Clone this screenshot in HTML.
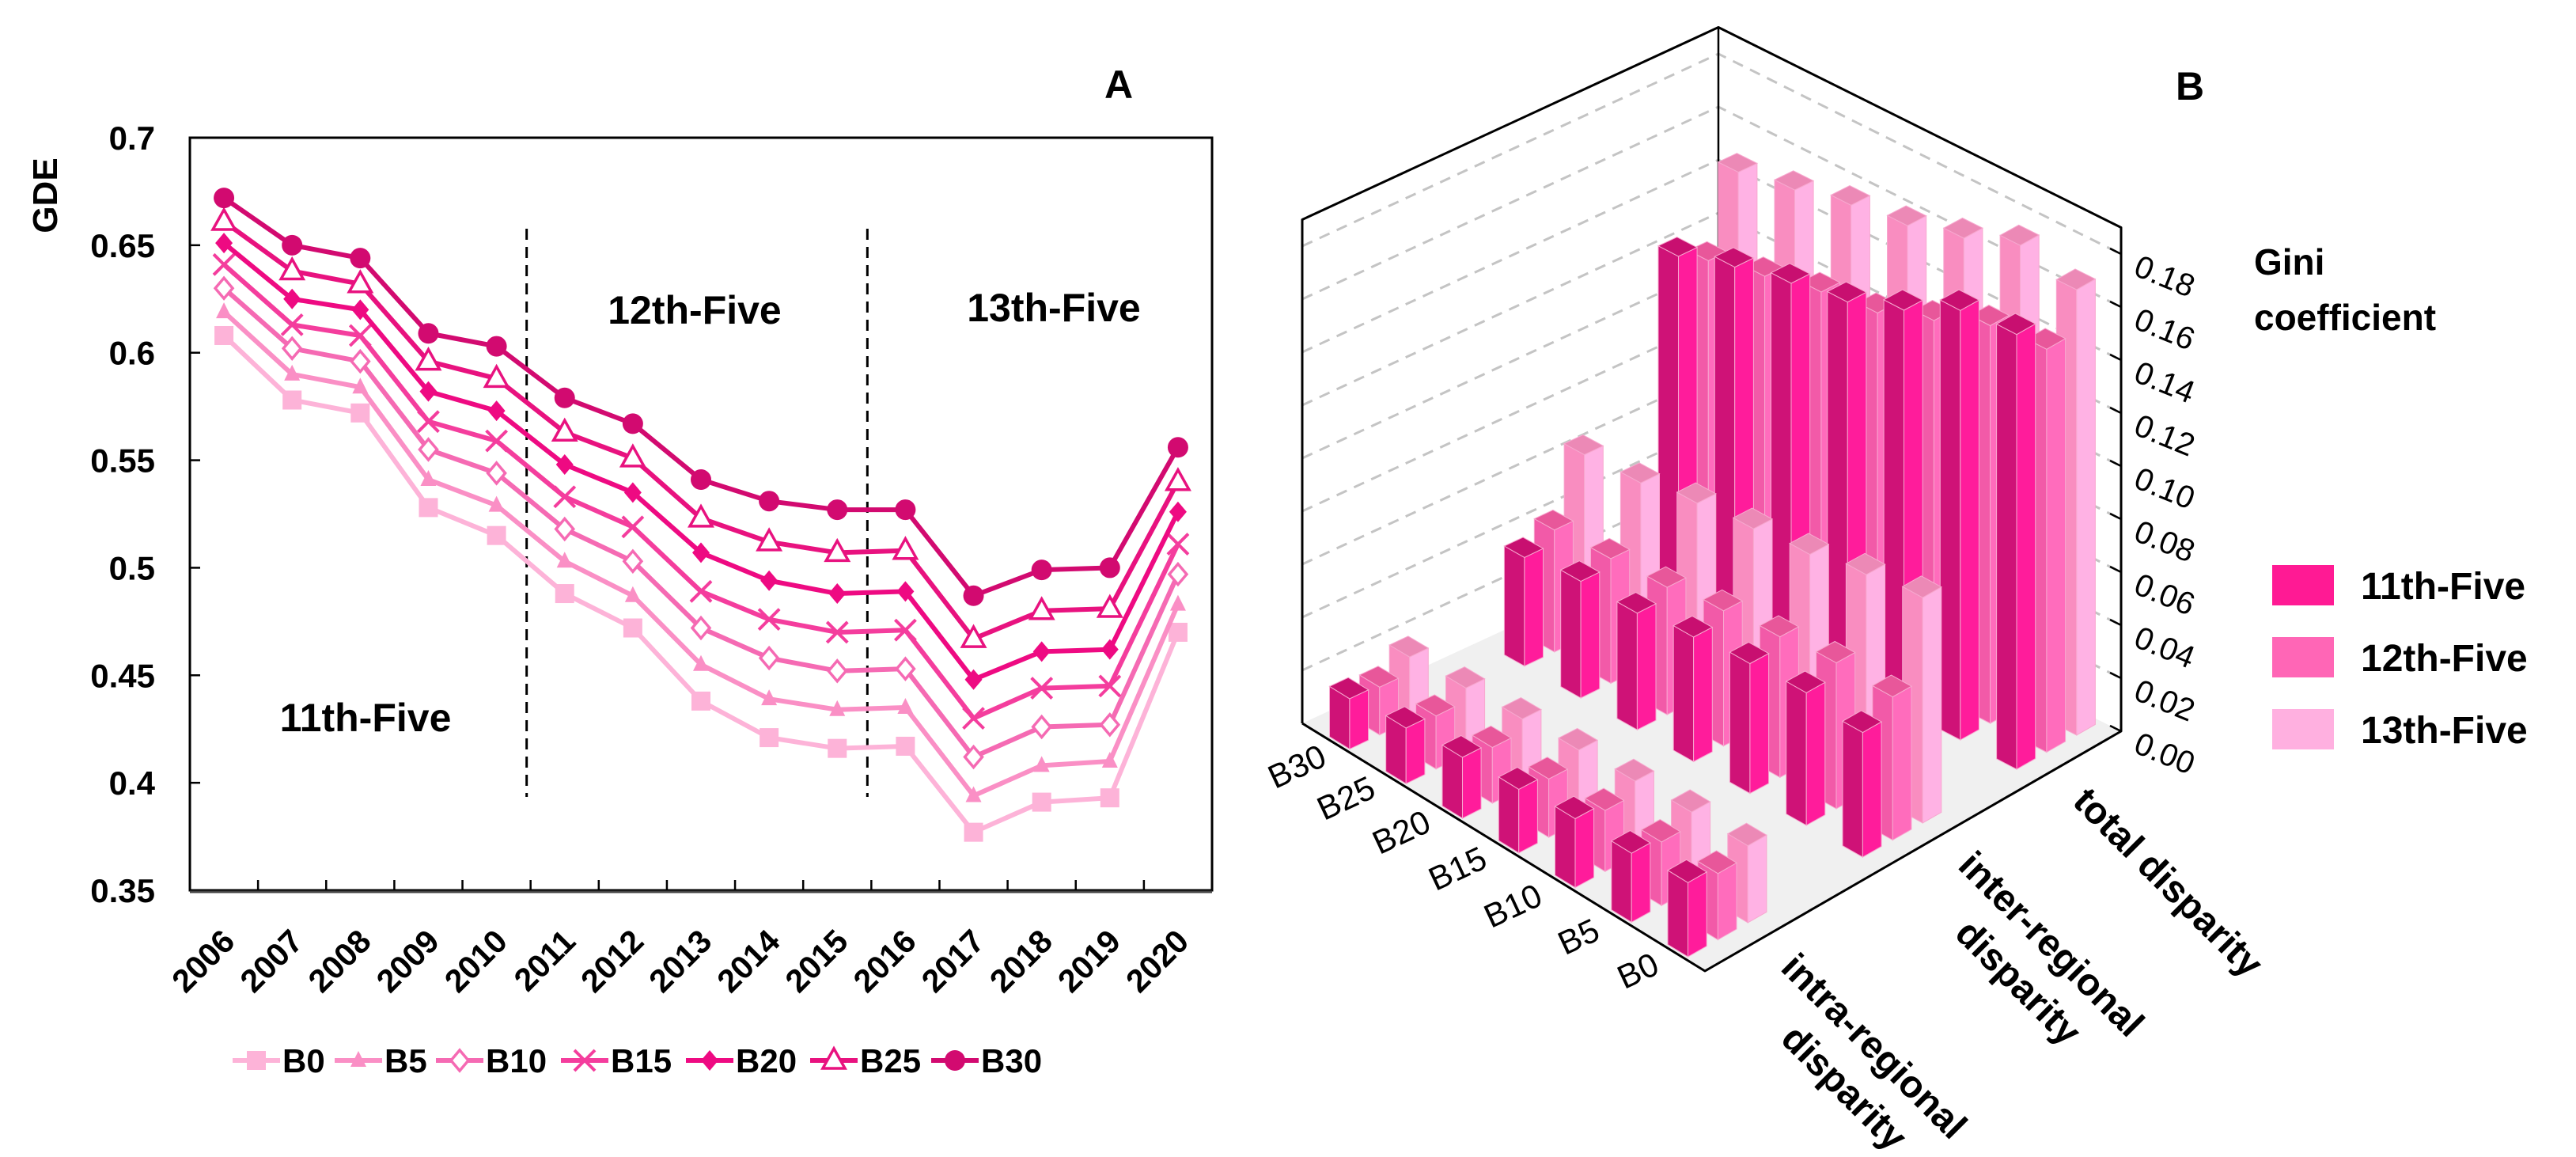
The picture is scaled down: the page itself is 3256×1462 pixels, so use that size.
<!DOCTYPE html>
<html><head><meta charset="utf-8"><style>
html,body{margin:0;padding:0;background:#fff}
svg{display:block;font-family:"Liberation Sans",Arial,sans-serif}
</style></head><body>
<svg id="fig" width="3256" height="1462" viewBox="0 0 3256 1462" xmlns="http://www.w3.org/2000/svg">
<g id="panelA"></g>
<g id="panelB"></g>
</svg>
<script>
// ---------- Panel A data ----------
const years = ["2006","2007","2008","2009","2010","2011","2012","2013","2014","2015","2016","2017","2018","2019","2020"];
const seriesNames = ["B0","B5","B10","B15","B20","B25","B30"];
const B0  = [0.608,0.578,0.572,0.528,0.515,0.488,0.472,0.438,0.421,0.416,0.417,0.377,0.391,0.393,0.470];
const B5  = [0.619,0.590,0.584,0.541,0.529,0.503,0.487,0.455,0.439,0.434,0.435,0.394,0.408,0.410,0.483];
const B10 = [0.630,0.602,0.596,0.555,0.544,0.518,0.503,0.472,0.458,0.452,0.453,0.412,0.426,0.427,0.497];
const B15 = [0.641,0.613,0.608,0.568,0.559,0.533,0.519,0.489,0.476,0.470,0.471,0.430,0.444,0.445,0.511];
const B20 = [0.651,0.625,0.620,0.582,0.573,0.548,0.535,0.507,0.494,0.488,0.489,0.448,0.461,0.462,0.526];
const B25 = [0.661,0.638,0.632,0.596,0.588,0.563,0.551,0.523,0.512,0.507,0.508,0.467,0.480,0.481,0.540];
const B30 = [0.672,0.650,0.644,0.609,0.603,0.579,0.567,0.541,0.531,0.527,0.527,0.487,0.499,0.500,0.556];
const yTicksA = [0.35,0.4,0.45,0.5,0.55,0.6,0.65,0.7];
const yTickLabelsA = ["0.35","0.4","0.45","0.5","0.55","0.6","0.65","0.7"];
const periodBoundaries = [5,10];

// ---------- Panel B data ----------
const bLevels = ["B30","B25","B20","B15","B10","B5","B0"];
const disparities = ["intra-regional disparity","inter-regional disparity","total disparity"];
const periods = ["11th-Five","12th-Five","13th-Five"];
const intra11 = [0.019,0.021,0.023,0.024,0.026,0.026,0.028];
const intra12 = [0.018,0.020,0.021,0.022,0.023,0.024,0.025];
const intra13 = [0.024,0.025,0.026,0.027,0.028,0.029,0.029];
const inter11 = [0.041,0.044,0.044,0.047,0.049,0.050,0.047];
const inter12 = [0.046,0.047,0.048,0.051,0.053,0.055,0.054];
const inter13 = [0.069,0.070,0.074,0.076,0.078,0.082,0.085];
const total11 = [0.127,0.134,0.139,0.143,0.151,0.162,0.164];
const total12 = [0.120,0.125,0.130,0.133,0.141,0.150,0.152];
const total13 = [0.148,0.152,0.157,0.160,0.166,0.174,0.168];
const zTicks = [0,0.02,0.04,0.06,0.08,0.10,0.12,0.14,0.16,0.18];
const zTickLabels = ["0.00","0.02","0.04","0.06","0.08","0.10","0.12","0.14","0.16","0.18"];

const NS="http://www.w3.org/2000/svg";
function mk(parent,tag,attrs,text){const e=document.createElementNS(NS,tag);for(const k in attrs)e.setAttribute(k,attrs[k]);if(text!==undefined)e.textContent=text;parent.appendChild(e);return e;}

// ===== Panel A =====
const A=document.getElementById('panelA');
const X0=240,X1=1532,Y0=174,Y1=1125;
const cw=(X1-X0)/years.length;
function xA(i){return X0+cw*(i+0.5);}
function yA(v){return Y0+(0.7-v)/0.35*(Y1-Y0);}
let e;
e=mk(A,'rect',{x:X0,y:Y0,width:X1-X0,height:Y1-Y0,fill:'none',stroke:'#000','stroke-width':3});


e=mk(A,'line',{x1:X0,y1:Y1+2,x2:X1,y2:Y1+2,stroke:'#444','stroke-width':3});


for(let k=1;k<years.length;k++){
  e=mk(A,'line',{x1:X0+cw*k,y1:Y1,x2:X0+cw*k,y2:Y1-13,stroke:'#000','stroke-width':2.5});
  
  
}
yTicksA.forEach((t,i)=>{
  if(i>0&&i<yTicksA.length-1){
    e=mk(A,'line',{x1:X0,y1:yA(t),x2:X0+13,y2:yA(t),stroke:'#000','stroke-width':2.5});
    
    
  }
  e=mk(A,'text',{x:196,y:yA(t)+15,'text-anchor':'end','font-size':42,'font-weight':'bold'},yTickLabelsA[i]);
  
  
});
years.forEach((yr,i)=>{
  const tx=xA(i)+16,ty=1192;
  e=mk(A,'text',{x:tx,y:ty,'text-anchor':'end','font-size':41,'font-weight':'bold',transform:`rotate(-45 ${tx} ${ty})`},yr);
  
  
});
e=mk(A,'text',{x:0,y:0,'text-anchor':'middle','font-size':44,'font-weight':'bold',transform:'translate(72 247) rotate(-90)'},'GDE');


e=mk(A,'text',{x:1414,y:124,'text-anchor':'middle','font-size':50,'font-weight':'bold'},'A');


periodBoundaries.forEach(b=>{
  e=mk(A,'line',{x1:X0+cw*b-5,y1:289,x2:X0+cw*b-5,y2:1007,stroke:'#000','stroke-width':3,'stroke-dasharray':'14 9'});
  
  
});
[['11th-Five',462,924],['12th-Five',878,409],['13th-Five',1332,406]].forEach(p=>{
  e=mk(A,'text',{x:p[1],y:p[2],'text-anchor':'middle','font-size':50,'font-weight':'bold'},p[0]);
  
  
});
const seriesData=[B0,B5,B10,B15,B20,B25,B30];
const seriesColors=['#fdb3d8','#fa8fc5','#f56ab3','#f43d9d','#ee0a82','#e8127f','#d20a70'];
const markerTypes=['square','tri','diamondOpen','x','diamond','triOpen','circle'];
function marker(g,type,x,y,c,s){
  s=s||1;
  if(type==='square')return mk(g,'rect',{x:x-12*s,y:y-12*s,width:24*s,height:24*s,fill:c});
  if(type==='tri')return mk(g,'polygon',{points:`${x},${y-12*s} ${x-10*s},${y+8*s} ${x+10*s},${y+8*s}`,fill:c});
  if(type==='triOpen')return mk(g,'polygon',{points:`${x},${y-15*s} ${x-14*s},${y+10*s} ${x+14*s},${y+10*s}`,fill:'#fff',stroke:c,'stroke-width':3.5});
  if(type==='diamondOpen')return mk(g,'polygon',{points:`${x},${y-13*s} ${x+11*s},${y} ${x},${y+13*s} ${x-11*s},${y}`,fill:'#fff',stroke:c,'stroke-width':3.5});
  if(type==='diamond')return mk(g,'polygon',{points:`${x},${y-13*s} ${x+11*s},${y} ${x},${y+13*s} ${x-11*s},${y}`,fill:c});
  if(type==='x')return mk(g,'path',{d:`M${x-13*s},${y-13*s}L${x+13*s},${y+13*s}M${x+13*s},${y-13*s}L${x-13*s},${y+13*s}`,stroke:c,'stroke-width':4,fill:'none'});
  if(type==='circle')return mk(g,'circle',{cx:x,cy:y,r:13*s,fill:c});
}
seriesData.forEach((vals,si)=>{
  const g=mk(A,'g',{});
  
  
  const pts=vals.map((v,i)=>xA(i)+','+yA(v)).join(' ');
  e=mk(g,'polyline',{points:pts,fill:'none',stroke:seriesColors[si],'stroke-width':6,'stroke-linejoin':'round'});
  
  
  vals.forEach((v,i)=>{
    e=marker(g,markerTypes[si],xA(i),yA(v),seriesColors[si]);
    
    
  });
});
const legX=[324,453,581,739,897,1054,1207];
seriesNames.forEach((n,si)=>{
  const g=mk(A,'g',{});
  
  
  const x=legX[si],y=1340;
  mk(g,'line',{x1:x-30,y1:y,x2:x+30,y2:y,stroke:seriesColors[si],'stroke-width':6});
  marker(g,markerTypes[si],x,y,seriesColors[si]);
  mk(g,'text',{x:x+33,y:y+15,'font-size':42,'font-weight':'bold'},n);
});

// ===== Panel B =====
const B=document.getElementById('panelB');
const Lc=[1646,914],Fc=[2155,1227],Rc=[2681,924],Kc=[2172,671];
const ZS=3350, ZMAX=0.19;
function proj(a,d,z){
  const w1=(1-a)*(1-d),w2=a*(1-d),w3=a*d,w4=(1-a)*d;
  return [w1*Lc[0]+w2*Fc[0]+w3*Rc[0]+w4*Kc[0], w1*Lc[1]+w2*Fc[1]+w3*Rc[1]+w4*Kc[1]-z*ZS];
}
function P(p){return p[0].toFixed(1)+','+p[1].toFixed(1);}
e=mk(B,'polygon',{points:[proj(0,0,0),proj(1,0,0),proj(1,1,0),proj(0,1,0)].map(P).join(' '),fill:'#f0f0f0'});


zTicks.forEach(z=>{
  if(z===0)return;
  e=mk(B,'polyline',{points:[proj(0,0,z),proj(0,1,z),proj(1,1,z)].map(P).join(' '),fill:'none',stroke:'#c4c4c4','stroke-width':3,'stroke-dasharray':'14 10'});
  
  
});
e=mk(B,'line',{x1:proj(0,1,0)[0],y1:proj(0,1,0)[1],x2:proj(0,1,ZMAX)[0],y2:proj(0,1,ZMAX)[1],stroke:'#000','stroke-width':2.5});



const dBase=[0.03,0.45,0.82], dStep=0.072, wa=0.05, wd=0.045;
const groupVals=[[intra11,intra12,intra13],[inter11,inter12,inter13],[total11,total12,total13]];
const faceCols=[['#cf1277','#ff1c9b','#c80f70'],['#f25aa8','#ff6cbc','#e8579a'],['#f98dc0','#ffb2e4','#ec89b6']];
const bars=[];
groupVals.forEach((gv,g)=>gv.forEach((vals,p)=>vals.forEach((v,i)=>{
  bars.push({a:0.085+0.14*i,d:dBase[g]+p*dStep,h:v,p:p,g:g,i:i});
})));
bars.sort((u,v)=>(u.a-u.d)-(v.a-v.d));
bars.forEach(b=>{
  const a0=b.a-wa/2,a1=b.a+wa/2,d0=b.d-wd/2,d1=b.d+wd/2,h=b.h;
  const c=faceCols[b.p];
  const g=mk(B,'g',{});
  
  
  mk(g,'polygon',{points:[proj(a0,d0,0),proj(a1,d0,0),proj(a1,d0,h),proj(a0,d0,h)].map(P).join(' '),fill:c[0],stroke:'#f7a8cf','stroke-width':1});
  mk(g,'polygon',{points:[proj(a1,d0,0),proj(a1,d1,0),proj(a1,d1,h),proj(a1,d0,h)].map(P).join(' '),fill:c[1],stroke:'#f7a8cf','stroke-width':1});
  mk(g,'polygon',{points:[proj(a0,d0,h),proj(a1,d0,h),proj(a1,d1,h),proj(a0,d1,h)].map(P).join(' '),fill:c[2],stroke:'#f7a8cf','stroke-width':1});
});
e=mk(B,'polyline',{points:[proj(0,0,0),proj(0,0,ZMAX),proj(0,1,ZMAX),proj(1,1,ZMAX),proj(1,1,0),proj(1,0,0),proj(0,0,0)].map(P).join(' '),fill:'none',stroke:'#000','stroke-width':3,'stroke-linejoin':'round'});


zTicks.forEach((z,k)=>{
  const p=proj(1,1,z);
  e=mk(B,'line',{x1:p[0],y1:p[1],x2:p[0]-14,y2:p[1]-7,stroke:'#000','stroke-width':2.5});
  
  
  const tx=p[0]+14,ty=p[1]+26;
  e=mk(B,'text',{x:tx,y:ty,'font-size':40,transform:`rotate(22 ${tx} ${ty})`},zTickLabels[k]);
  
  
});
const bLabPos=[[1639,968],[1701,1008],[1771,1051],[1842,1097],[1912,1144],[1995,1183],[2070,1226]];
bLevels.forEach((n,i)=>{
  const p=bLabPos[i];
  e=mk(B,'text',{x:p[0],y:p[1]+15,'text-anchor':'middle','font-size':42,transform:`rotate(-25 ${p[0]} ${p[1]})`},n);
  
  
});
// disparity labels: [text, top-left start x, y]
[['total disparity',2642,991],['inter-regional',2497,1072],['disparity',2493,1158],['intra-regional',2273,1201],['disparity',2273,1291]].forEach(t=>{
  const bx=t[1]-24,by=t[2]+24;
  e=mk(B,'text',{x:bx,y:by,'font-size':48,'font-weight':'bold',transform:`rotate(45 ${bx} ${by})`},t[0]);
  
  
});
e=mk(B,'text',{x:2849,y:347,'font-size':46,'font-weight':'bold'},'Gini');


e=mk(B,'text',{x:2849,y:417,'font-size':46,'font-weight':'bold'},'coefficient');


e=mk(B,'text',{x:2768,y:126,'text-anchor':'middle','font-size':50,'font-weight':'bold'},'B');


const legCols=['#ff1a94','#ff66b6','#ffb0e0'];
periods.forEach((n,k)=>{
  const g=mk(B,'g',{});
  
  
  const y=714+k*91;
  mk(g,'rect',{x:2872,y:y,width:78,height:51,fill:legCols[k]});
  mk(g,'text',{x:2984,y:y+43,'font-size':48,'font-weight':'bold'},n);
});
</script>
</body></html>
